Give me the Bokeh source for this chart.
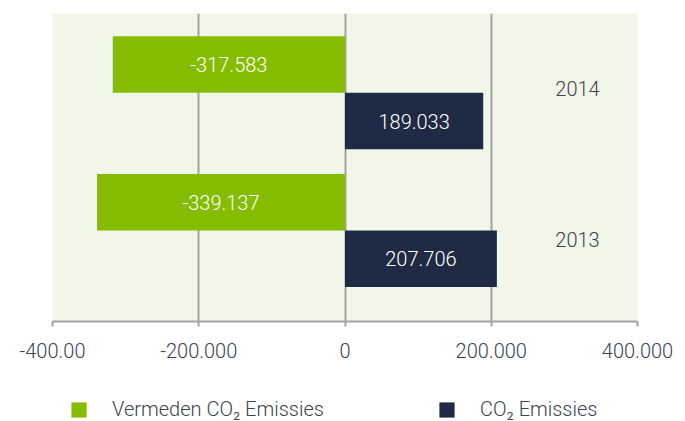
from bokeh.plotting import figure
from bokeh.layouts import column
from bokeh.models import ColumnDataSource, FixedTicker, Legend, LegendItem, Range1d
from bokeh.core.properties import value
from bokeh.embed import file_html
from bokeh.resources import INLINE

# ---- data ----
years = ["2013", "2014"]
vermeden = [-339137, -317583]      # Vermeden CO2 Emissies
emissies = [207706, 189033]        # CO2 Emissies
series_names = ["Vermeden CO₂ Emissies", "CO₂ Emissies"]
x_ticks = [-400000, -200000, 0, 200000, 400000]
x_tick_labels = ["-400.00", "-200.000", "0", "200.000", "400.000"]

GREEN = "#86BC00"
NAVY = "#1F2A44"
GRID = "#A3A3A3"
TXT = "#3B4250"
FONT_NAME = "Roboto Light"
FONT = value(FONT_NAME)
FS = "20px"


def nl(v):
    return f"{v:,}".replace(",", ".")


ypos = list(range(len(years)))
off = 0.205
src_g = ColumnDataSource(dict(
    y=[i + off for i in ypos], right=vermeden,
    xm=[v / 2 for v in vermeden], lab=[nl(v) for v in vermeden]))
src_n = ColumnDataSource(dict(
    y=[i - off for i in ypos], right=emissies,
    xm=[v / 2 for v in emissies], lab=[nl(v) for v in emissies]))
src_y = ColumnDataSource(dict(y=ypos, t=years, dy=[9, -4]))

p = figure(width=685, height=380, output_backend="svg", toolbar_location=None,
           x_range=Range1d(x_ticks[0], x_ticks[-1]), y_range=Range1d(-0.661, 1.576),
           min_border_left=52, min_border_right=48, min_border_top=13,
           min_border_bottom=59)
p.background_fill_color = "#F2F6E8"
p.border_fill_color = "white"
p.outline_line_color = None

g = p.hbar(y="y", left=0, right="right", height=0.41, source=src_g,
           fill_color=GREEN, line_color=None)
n = p.hbar(y="y", left=0, right="right", height=0.41, source=src_n,
           fill_color=NAVY, line_color=None)

for s in (src_g, src_n):
    p.text(x="xm", y="y", text="lab", source=s, text_align="center",
           text_baseline="middle", text_color="white", text_font_size=FS,
           text_font=FONT)

p.text(x=x_ticks[-1], y="y", text="t", source=src_y, x_offset=-60, y_offset="dy",
       text_align="center", text_baseline="middle", text_color=TXT,
       text_font_size=FS, text_font=FONT)

p.yaxis.visible = False
p.ygrid.visible = False
p.xgrid.ticker = FixedTicker(ticks=x_ticks[:-1])
p.xgrid.grid_line_color = GRID
p.xgrid.grid_line_width = 2

ax = p.xaxis[0]
ax.ticker = FixedTicker(ticks=x_ticks)
ax.major_label_overrides = {t: l for t, l in zip(x_ticks, x_tick_labels)}
ax.axis_line_color = GRID
ax.axis_line_width = 2
ax.major_tick_line_color = GRID
ax.major_tick_line_width = 2
ax.major_tick_in = 0
ax.major_tick_out = 5
ax.minor_tick_line_color = None
ax.major_label_text_font_size = FS
ax.major_label_text_color = TXT
ax.major_label_text_font = FONT_NAME
ax.major_label_standoff = 16

# ---- legend strip (frame aligned with the chart frame by the column) ----
lg = figure(width=685, height=41, output_backend="svg", toolbar_location=None,
            x_range=Range1d(0, 1), y_range=Range1d(0, 1),
            min_border_left=52, min_border_right=48, min_border_top=0,
            min_border_bottom=0)
lg.axis.visible = False
lg.grid.visible = False
lg.outline_line_color = None
lg.background_fill_color = "white"
lg.border_fill_color = "white"

# hidden proxies of the two series, used only for the legend swatches
swatch_g = lg.hbar(y="y", left=0, right="right", height=0.41, source=src_g,
                   fill_color=GREEN, line_color=None, visible=False)
swatch_n = lg.hbar(y="y", left=0, right="right", height=0.41, source=src_n,
                   fill_color=NAVY, line_color=None, visible=False)

for name, r, x0 in ((series_names[0], swatch_g, 17), (series_names[1], swatch_n, 385)):
    leg = Legend(items=[LegendItem(label=name, renderers=[r])],
                 orientation="horizontal", location=(x0, 0),
                 glyph_width=19, glyph_height=19, label_standoff=24,
                 label_height=15, padding=0, margin=0, border_line_color=None,
                 background_fill_alpha=0, inactive_fill_alpha=0,
                 label_text_font_size=FS,
                 label_text_color=TXT, label_text_font=FONT_NAME)
    lg.add_layout(leg)

open("out.html", "w").write(file_html(column(p, lg), INLINE))
